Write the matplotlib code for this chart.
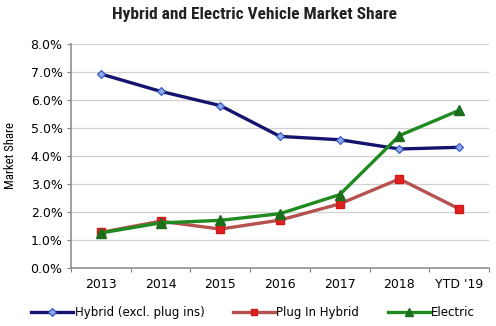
import matplotlib
matplotlib.use("Agg")
import matplotlib.pyplot as plt
from matplotlib import font_manager
from matplotlib.ticker import FixedLocator, PercentFormatter

categories = ["2013", "2014", "2015", "2016", "2017", "2018", "YTD '19"]
hybrid = [6.93, 6.31, 5.80, 4.70, 4.58, 4.25, 4.31]
plug_in = [1.27, 1.67, 1.39, 1.71, 2.29, 3.18, 2.11]
electric = [1.25, 1.61, 1.70, 1.94, 2.62, 4.73, 5.63]
y_ticks = [0, 1, 2, 3, 4, 5, 6, 7, 8]


def narrow_font(weight="normal"):
    """Pick a condensed face for the title and axis label."""
    for fam in ["Liberation Sans Narrow", "DejaVu Sans Condensed", "Roboto Condensed",
                "Open Sans Condensed"]:
        try:
            path = font_manager.findfont(font_manager.FontProperties(family=fam, weight=weight),
                                         fallback_to_default=False)
            return font_manager.FontProperties(fname=path)
        except Exception:
            continue
    return font_manager.FontProperties(family="DejaVu Sans", stretch="condensed", weight=weight)


fig = plt.figure(figsize=(4.96, 3.26), dpi=100)
ax = fig.add_axes([0.143, 0.178, 0.843, 0.687])

x = list(range(len(categories)))
ax.plot(x, hybrid, color="#14146e", lw=2.4, marker="D", ms=4.5,
        mfc="#8fa8e8", mec="#3050c0", mew=0.8, label="Hybrid (excl. plug ins)", zorder=3)
ax.plot(x, plug_in, color="#b5524f", lw=2.4, marker="s", ms=6,
        mfc="#e02020", mec="#d01818", label="Plug In Hybrid", zorder=3)
ax.plot(x, electric, color="#1f8a1f", lw=2.4, marker="^", ms=7,
        mfc="#1b6e1b", mec="#1b6e1b", label="Electric", zorder=4)

ax.set_ylim(0, 8)
ax.set_xlim(-0.5, len(categories) - 0.5)
ax.set_yticks(y_ticks)
ax.yaxis.set_major_formatter(PercentFormatter(decimals=1))
ax.grid(axis="y", color="#d0d0d0", lw=0.9)
ax.set_axisbelow(True)

ax.xaxis.set_major_locator(FixedLocator([i - 0.5 for i in range(len(categories) + 1)]))
ax.xaxis.set_minor_locator(FixedLocator(x))
ax.set_xticklabels([])
ax.set_xticklabels(categories, minor=True)
ax.tick_params(axis="x", which="major", length=3, color="#808080")
ax.tick_params(axis="x", which="minor", length=0, pad=7, labelsize=9)
ax.tick_params(axis="y", length=3, color="#808080", labelsize=9, pad=3)

for s in ("top", "right"):
    ax.spines[s].set_visible(False)
for s in ("left", "bottom"):
    ax.spines[s].set_color("#909090")
    ax.spines[s].set_linewidth(1.2)

label_fp = narrow_font()
label_fp.set_size(9.2)
ax.set_ylabel("Market Share", fontproperties=label_fp, labelpad=10)

title_fp = narrow_font("bold")
title_fp.set_size(12.5)
title_fp.set_weight("bold")
fig.text(0.512, 0.955, "Hybrid and Electric Vehicle Market Share",
         ha="center", va="center", fontproperties=title_fp, color="#222222")

leg = fig.legend(loc="center", bbox_to_anchor=(0.51, 0.04), ncol=3, frameon=False,
                 handlelength=3.6, columnspacing=2.4, handletextpad=0.1, fontsize=8.5,
                 markerscale=0.8)

fig.savefig("out.png", dpi=100, facecolor="white")
